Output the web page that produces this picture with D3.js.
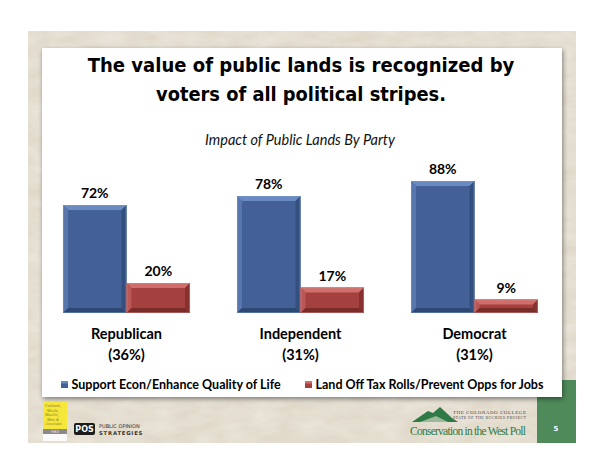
<!DOCTYPE html>
<html><head><meta charset="utf-8">
<script src="https://cdn.jsdelivr.net/npm/d3@7"></script>
<style>html,body{margin:0;padding:0;background:#fff;}svg{display:block;}</style>
</head><body>
<script>
const categories = ["Republican", "Independent", "Democrat"];
const categoryShares = ["(36%)", "(31%)", "(31%)"];
const seriesNames = ["Support Econ/Enhance Quality of Life", "Land Off Tax Rolls/Prevent Opps for Jobs"];
const supportValues = [72, 78, 88];
const offTaxValues = [20, 17, 9];
const titleLines = ["The value of public lands is recognized by", "voters of all political stripes."];
const subtitle = "Impact of Public Lands By Party";

const W = 600, H = 463;
const svg = d3.select("body").append("svg").attr("width", W).attr("height", H);
const defs = svg.append("defs");

// paper texture
const tex = defs.append("filter").attr("id", "paper").attr("x", 0).attr("y", 0).attr("width", 1).attr("height", 1);
tex.append("feTurbulence").attr("type", "fractalNoise").attr("baseFrequency", "0.04 0.09").attr("numOctaves", 3).attr("seed", 4).attr("result", "n");
tex.append("feColorMatrix").attr("in", "n").attr("type", "matrix")
  .attr("values", "0 0 0 0 0.88  0 0 0 0 0.85  0 0 0 0 0.78  0.9 0 0 0 -0.2").attr("result", "c");
tex.append("feComposite").attr("in", "c").attr("in2", "SourceGraphic").attr("operator", "in");

const shadow = defs.append("filter").attr("id", "shadow").attr("x", -0.05).attr("y", -0.05).attr("width", 1.1).attr("height", 1.1);
shadow.append("feGaussianBlur").attr("in", "SourceAlpha").attr("stdDeviation", 2.5);
shadow.append("feOffset").attr("dx", 1).attr("dy", 2).attr("result", "b");
shadow.append("feComponentTransfer").append("feFuncA").attr("type", "linear").attr("slope", 0.45);
const fm = shadow.append("feMerge");
fm.append("feMergeNode"); fm.append("feMergeNode").attr("in", "SourceGraphic");

// slide background
svg.append("rect").attr("x", 28).attr("y", 31).attr("width", 548).attr("height", 412).attr("fill", "#e0d9ca");
svg.append("rect").attr("x", 28).attr("y", 31).attr("width", 548).attr("height", 412).attr("fill", "#e6dfd1").attr("filter", "url(#paper)");
// green strip
svg.append("rect").attr("x", 537).attr("y", 380).attr("width", 39).attr("height", 63).attr("fill", "#4f8a5a");
svg.append("text").attr("x", 556).attr("y", 431).attr("text-anchor", "middle").attr("fill", "#fff")
  .attr("font-family", "DejaVu Sans").attr("font-size", 7).attr("font-weight", "bold").text("5");

// white panel
svg.append("rect").attr("x", 42).attr("y", 48).attr("width", 520).attr("height", 349).attr("fill", "#fff").attr("filter", "url(#shadow)");

// title (font size fitted to the reference line widths)
const titleWidths = [427, 290];
titleLines.forEach((t, i) => {
  const tx = svg.append("text").attr("x", 301).attr("y", 72 + i * 29).attr("text-anchor", "middle")
    .attr("font-family", "DejaVu Sans Condensed, DejaVu Sans, sans-serif").attr("font-stretch", "condensed")
    .attr("font-weight", "bold").attr("font-size", 20).attr("fill", "#000").text(t);
  const w = tx.node().getComputedTextLength();
  if (w > 0) tx.attr("font-size", Math.min(24, 20 * titleWidths[i] / w));
});
svg.append("text").attr("x", 300).attr("y", 145).attr("text-anchor", "middle")
  .attr("font-family", "Lato, sans-serif").attr("font-style", "italic").attr("font-size", 14.5)
  .attr("fill", "#111").text(subtitle);

// scales
const x0 = d3.scaleBand().domain(categories).range([39.5, 561.5]).paddingInner(0.27).paddingOuter(0.135);
const x1 = d3.scaleBand().domain([0, 1]).range([0, x0.bandwidth()]);
const y = d3.scaleLinear().domain([0, 100]).range([313, 163]);

const palettes = [
  {body: "#436196", top: "#6a8ac2", left: "#5877ae", right: "#33507f", bottom: "#2e4874", edge: "#7a9ad0"},
  {body: "#a4413f", top: "#cf6e6b", left: "#bb5755", right: "#873230", bottom: "#7a2c2a", edge: "#d88a88"}
];
const series = [supportValues, offTaxValues];

const data = [];
categories.forEach((c, i) => series.forEach((s, j) => data.push({cat: c, s: j, v: s[i]})));

const bars = svg.append("g").selectAll("g").data(data).join("g");
bars.each(function(d) {
  const g = d3.select(this);
  const p = palettes[d.s];
  const bx = x0(d.cat) + x1(d.s), bw = x1.bandwidth();
  const by = y(d.v), bh = y(0) - y(d.v);
  const b = Math.min(5, bh / 2.5);
  const X0 = bx, X1 = bx + bw, Y0 = by, Y1 = by + bh;
  g.append("rect").attr("x", X0).attr("y", Y0).attr("width", bw).attr("height", bh).attr("fill", p.body);
  const poly = (pts, fill) => g.append("polygon").attr("points", pts.map(q => q.join(",")).join(" ")).attr("fill", fill);
  poly([[X0, Y0], [X1, Y0], [X1 - b, Y0 + b], [X0 + b, Y0 + b]], p.top);
  poly([[X0, Y0], [X0 + b, Y0 + b], [X0 + b, Y1 - b], [X0, Y1]], p.left);
  poly([[X1, Y0], [X1, Y1], [X1 - b, Y1 - b], [X1 - b, Y0 + b]], p.right);
  poly([[X0, Y1], [X0 + b, Y1 - b], [X1 - b, Y1 - b], [X1, Y1]], p.bottom);
  g.append("rect").attr("x", X0 + 0.5).attr("y", Y0 + 0.5).attr("width", bw - 1).attr("height", bh - 1)
    .attr("fill", "none").attr("stroke", p.edge).attr("stroke-width", 0.8).attr("stroke-opacity", 0.6);
  g.append("text").attr("x", bx + bw / 2).attr("y", by - 7).attr("text-anchor", "middle")
    .attr("font-family", "Lato, sans-serif").attr("font-weight", "bold").attr("font-size", 14)
    .attr("fill", "#000").text(d.v + "%");
});

// category labels
const catG = svg.append("g").selectAll("g").data(categories).join("g");
catG.append("text").attr("x", d => x0(d) + x0.bandwidth() / 2).attr("y", 339).attr("text-anchor", "middle")
  .attr("font-family", "Lato, sans-serif").attr("font-weight", "bold").attr("font-size", 14.5).attr("fill", "#000").text(d => d);
catG.append("text").attr("x", d => x0(d) + x0.bandwidth() / 2).attr("y", 360).attr("text-anchor", "middle")
  .attr("font-family", "Lato, sans-serif").attr("font-weight", "bold").attr("font-size", 14.5).attr("fill", "#000")
  .text((d, i) => categoryShares[i]);

// legend
const legX = [61, 305];
const leg = svg.append("g").selectAll("g").data(seriesNames).join("g")
  .attr("transform", (d, i) => `translate(${legX[i]},381)`);
leg.append("rect").attr("width", 7).attr("height", 7).attr("fill", (d, i) => palettes[i].body);
leg.append("rect").attr("width", 7).attr("height", 2.5).attr("fill", (d, i) => palettes[i].top);
leg.append("text").attr("x", 10.5).attr("y", 7.5).attr("font-family", "Lato, sans-serif").attr("font-weight", "bold")
  .attr("font-size", 12.5).attr("fill", "#000").text(d => d);

// footer logos
const f = svg.append("g");
f.append("rect").attr("x", 43).attr("y", 402).attr("width", 24).attr("height", 27).attr("fill", "#f6e83a");
["Fairbank,", "Maslin,", "Maullin,", "Metz &", "Associates"].forEach((t, i) => {
  f.append("text").attr("x", 45 + (i % 2) * 2).attr("y", 407 + i * 4.6).attr("font-family", "Liberation Serif, serif")
    .attr("font-style", "italic").attr("font-size", 4).attr("fill", "#8a7a30").text(t);
});
f.append("rect").attr("x", 43).attr("y", 429).attr("width", 24).attr("height", 5).attr("fill", "#8a8a8a");
f.append("text").attr("x", 55).attr("y", 433).attr("text-anchor", "middle").attr("font-family", "DejaVu Sans")
  .attr("font-size", 3.5).attr("fill", "#fff").text("FM3");
f.append("rect").attr("x", 43).attr("y", 434).attr("width", 24).attr("height", 7).attr("fill", "#fafafa");
f.append("rect").attr("x", 74).attr("y", 423).attr("width", 21).attr("height", 12).attr("rx", 2).attr("fill", "#1c1c1c");
f.append("text").attr("x", 84.5).attr("y", 432).attr("text-anchor", "middle").attr("font-family", "DejaVu Sans")
  .attr("font-weight", "bold").attr("font-size", 8).attr("fill", "#fff").text("POS");
f.append("text").attr("x", 99).attr("y", 427.5).attr("font-family", "DejaVu Sans").attr("font-size", 5)
  .attr("fill", "#333").text("PUBLIC OPINION");
f.append("text").attr("x", 99).attr("y", 434.5).attr("font-family", "DejaVu Sans").attr("font-weight", "bold")
  .attr("font-size", 5.3).attr("letter-spacing", 0.8).attr("fill", "#333").text("STRATEGIES");

f.append("path").attr("d", "M412,422 L428,411 L433,413 L440,407 L452,418 L458,422 Z").attr("fill", "#2f7a45");
f.append("path").attr("d", "M420,422 L436,416 L448,422 Z").attr("fill", "#e8e3d6").attr("opacity", 0.6);
f.append("text").attr("x", 453).attr("y", 414).attr("font-family", "Liberation Serif, serif").attr("font-size", 5)
  .attr("fill", "#444").attr("textLength", 73).text("THE COLORADO COLLEGE");
f.append("text").attr("x", 453).attr("y", 419).attr("font-family", "Liberation Serif, serif").attr("font-size", 4)
  .attr("fill", "#444").attr("textLength", 73).text("STATE OF THE ROCKIES PROJECT");
f.append("text").attr("x", 410).attr("y", 435).attr("font-family", "Liberation Serif, serif").attr("font-size", 11.5)
  .attr("fill", "#2f7a45").attr("textLength", 116).text("Conservation in the West Poll");
</script>
</body></html>
